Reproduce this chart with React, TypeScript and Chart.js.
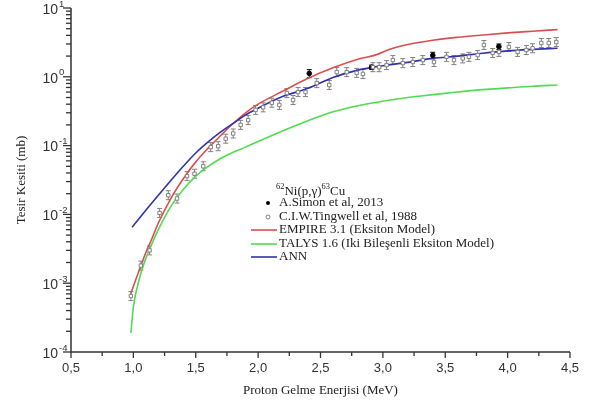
import React, { useEffect, useRef } from 'react';
import { Chart, registerables } from 'chart.js';

Chart.register(...registerables);

// ---- Data ----
const xTickValues = [0.5, 1.0, 1.5, 2.0, 2.5, 3.0, 3.5, 4.0, 4.5];
const xTickLabels = ['0,5', '1,0', '1,5', '2,0', '2,5', '3,0', '3,5', '4,0', '4,5'];
const yDecades = [-4, -3, -2, -1, 0, 1];

const empireE = [0.98, 1.0, 1.05, 1.1, 1.15, 1.2, 1.3, 1.4, 1.5, 1.6, 1.7, 1.8, 1.9, 2.0, 2.2, 2.4, 2.6, 2.8, 2.95, 3.05, 3.2, 3.4, 3.6, 3.8, 4.0, 4.2, 4.4];
const empireV = [7e-4, 9e-4, 1.6e-3, 2.8e-3, 4.5e-3, 7.5e-3, 0.017, 0.033, 0.058, 0.092, 0.14, 0.21, 0.3, 0.4, 0.62, 0.95, 1.35, 1.8, 2.1, 2.5, 2.95, 3.4, 3.75, 4.05, 4.35, 4.6, 4.85];

const talysE = [0.98, 1.0, 1.05, 1.1, 1.15, 1.2, 1.3, 1.4, 1.5, 1.6, 1.7, 1.8, 1.9, 2.0, 2.2, 2.4, 2.6, 2.8, 3.0, 3.2, 3.4, 3.6, 3.8, 4.0, 4.2, 4.4];
const talysV = [1.9e-4, 4.5e-4, 1.2e-3, 2.3e-3, 3.8e-3, 6e-3, 0.013, 0.023, 0.036, 0.05, 0.065, 0.08, 0.095, 0.115, 0.165, 0.23, 0.31, 0.38, 0.44, 0.5, 0.55, 0.6, 0.65, 0.69, 0.73, 0.76];

const annE = [0.99, 1.1, 1.2, 1.3, 1.4, 1.5, 1.6, 1.7, 1.8, 1.9, 2.0, 2.2, 2.4, 2.6, 2.8, 3.0, 3.2, 3.4, 3.6, 3.8, 4.0, 4.2, 4.4];
const annV = [0.0065, 0.0115, 0.019, 0.031, 0.05, 0.078, 0.113, 0.158, 0.21, 0.28, 0.35, 0.52, 0.68, 0.98, 1.25, 1.45, 1.62, 1.85, 2.0, 2.2, 2.38, 2.5, 2.6];

const tingwellE = [0.98, 1.06, 1.13, 1.21, 1.28, 1.35, 1.43, 1.49, 1.56, 1.62, 1.68, 1.74, 1.8, 1.86, 1.92, 1.98, 2.04, 2.11, 2.17, 2.23, 2.28, 2.32, 2.38, 2.47, 2.57, 2.63, 2.71, 2.79, 2.84, 2.92, 2.97, 3.03, 3.08, 3.16, 3.24, 3.32, 3.41, 3.51, 3.57, 3.64, 3.69, 3.76, 3.81, 3.88, 3.93, 4.01, 4.08, 4.15, 4.2, 4.27, 4.33, 4.39];
const tingwellV = [6.5e-4, 1.8e-3, 3.0e-3, 0.0105, 0.019, 0.017, 0.036, 0.039, 0.05, 0.095, 0.098, 0.126, 0.15, 0.2, 0.235, 0.33, 0.36, 0.42, 0.39, 0.58, 0.46, 0.6, 0.6, 0.81, 0.76, 1.17, 1.17, 1.14, 1.1, 1.38, 1.38, 1.48, 1.75, 1.58, 1.64, 1.75, 1.64, 1.95, 1.75, 1.85, 1.95, 2.07, 2.9, 2.22, 2.3, 2.71, 2.3, 2.45, 2.6, 3.1, 3.1, 3.2];

const simonE = [2.41, 2.91, 3.4, 3.93];
const simonV = [1.12, 1.38, 2.05, 2.75];
const simonErr = [0.15, 0.1, 0.22, 0.25];

const RED = 'rgb(214,80,80)';
const GREEN = 'rgb(80,220,80)';
const BLUE = 'rgb(50,50,170)';
const GRAY = 'rgb(130,130,130)';
const AXIS = '#333';

const pts = (xs: number[], ys: number[]) => xs.map((x, i) => ({ x, y: ys[i] }));

function drawParts(ctx: CanvasRenderingContext2D, parts: [string, boolean][], x: number, y: number, size: number, family: string) {
  let cx = x;
  for (const [t, sup] of parts) {
    const fs = sup ? size * 0.65 : size;
    ctx.font = `${fs}px ${family}`;
    ctx.fillText(t, cx, sup ? y - size * 0.4 : y);
    cx += ctx.measureText(t).width;
  }
}

const decorPlugin = {
  id: 'decor',
  beforeDatasetsDraw(chart: any) {
    const ctx = chart.ctx as CanvasRenderingContext2D;
    const ys = chart.scales.y;
    ctx.save();
    const meta = chart.getDatasetMeta(1);
    ctx.strokeStyle = '#000';
    ctx.lineWidth = 1;
    meta.data.forEach((el: any, i: number) => {
      const v = simonV[i];
      const e = simonErr[i];
      const yt = ys.getPixelForValue(v + e);
      const yb = ys.getPixelForValue(v - e);
      ctx.beginPath();
      ctx.moveTo(el.x, yt); ctx.lineTo(el.x, yb);
      ctx.moveTo(el.x - 2.5, yt); ctx.lineTo(el.x + 2.5, yt);
      ctx.moveTo(el.x - 2.5, yb); ctx.lineTo(el.x + 2.5, yb);
      ctx.stroke();
    });
    const m0 = chart.getDatasetMeta(0);
    ctx.strokeStyle = GRAY;
    m0.data.forEach((el: any) => {
      ctx.beginPath();
      ctx.moveTo(el.x, el.y - 4.5); ctx.lineTo(el.x, el.y + 4.5);
      ctx.moveTo(el.x - 2.5, el.y - 4.5); ctx.lineTo(el.x + 2.5, el.y - 4.5);
      ctx.moveTo(el.x - 2.5, el.y + 4.5); ctx.lineTo(el.x + 2.5, el.y + 4.5);
      ctx.stroke();
    });
    ctx.restore();
  },
  afterDraw(chart: any) {
    const ctx = chart.ctx as CanvasRenderingContext2D;
    const xs = chart.scales.x;
    const ys = chart.scales.y;
    const ca = chart.chartArea;
    ctx.save();
    ctx.strokeStyle = AXIS;
    ctx.fillStyle = AXIS;
    ctx.lineWidth = 1.5;
    ctx.beginPath();
    ctx.moveTo(ca.left, ca.top);
    ctx.lineTo(ca.left, ca.bottom);
    ctx.lineTo(ca.right, ca.bottom);
    ctx.stroke();

    ctx.lineWidth = 1.3;
    xTickValues.forEach((v, i) => {
      const px = xs.getPixelForValue(v);
      ctx.beginPath();
      ctx.moveTo(px, ca.bottom); ctx.lineTo(px, ca.bottom + 6);
      ctx.stroke();
      if (i < xTickValues.length - 1) {
        const pm = xs.getPixelForValue(v + 0.25);
        ctx.beginPath();
        ctx.moveTo(pm, ca.bottom); ctx.lineTo(pm, ca.bottom + 4);
        ctx.stroke();
      }
      ctx.font = '13px "Liberation Sans", Arial, sans-serif';
      ctx.textAlign = 'center';
      ctx.textBaseline = 'middle';
      ctx.fillText(xTickLabels[i], px, 368);
    });

    yDecades.forEach((d) => {
      const py = ys.getPixelForValue(Math.pow(10, d));
      ctx.beginPath();
      ctx.moveTo(ca.left, py); ctx.lineTo(ca.left - 8, py);
      ctx.stroke();
      if (d < 1) {
        for (let m = 2; m <= 9; m++) {
          const pm = ys.getPixelForValue(m * Math.pow(10, d));
          ctx.beginPath();
          ctx.moveTo(ca.left, pm); ctx.lineTo(ca.left - 5, pm);
          ctx.stroke();
        }
      }
      ctx.textBaseline = 'middle';
      ctx.textAlign = 'right';
      ctx.font = '14px "Liberation Sans", Arial, sans-serif';
      ctx.fillText('10', 58, py + 2);
      ctx.textAlign = 'left';
      ctx.font = '9.5px "Liberation Sans", Arial, sans-serif';
      ctx.fillText(String(d), 59, py - 4);
    });

    ctx.fillStyle = '#222';
    ctx.font = '13px "Liberation Serif", "Times New Roman", serif';
    ctx.textAlign = 'center';
    ctx.textBaseline = 'middle';
    ctx.fillText('Proton Gelme Enerjisi (MeV)', (ca.left + ca.right) / 2, 391);
    ctx.save();
    ctx.translate(22, (ca.top + ca.bottom) / 2);
    ctx.rotate(-Math.PI / 2);
    ctx.fillText('Tesir Kesiti (mb)', 0, 0);
    ctx.restore();

    const fam = '"Liberation Serif", "Times New Roman", serif';
    ctx.textAlign = 'left';
    ctx.textBaseline = 'middle';
    ctx.fillStyle = '#222';
    drawParts(ctx, [['62', true], ['Ni(p,\u03b3)', false], ['63', true], ['Cu', false]], 276, 192, 13, fam);
    ctx.font = `13px ${fam}`;
    const tx = 279;
    const rows = [203, 217, 230, 244, 257];
    const labels = ['A.Simon et al, 2013', 'C.I.W.Tingwell et al, 1988', 'EMPIRE 3.1 (Eksiton Model)', 'TALYS 1.6 (Iki Bile\u015fenli Eksiton Model)', 'ANN'];
    labels.forEach((l, i) => ctx.fillText(l, tx, rows[i]));
    ctx.fillStyle = '#000';
    ctx.beginPath(); ctx.arc(268, rows[0], 2, 0, Math.PI * 2); ctx.fill();
    ctx.strokeStyle = GRAY; ctx.lineWidth = 1;
    ctx.beginPath(); ctx.arc(268, rows[1], 2, 0, Math.PI * 2); ctx.stroke();
    [RED, GREEN, BLUE].forEach((c, i) => {
      ctx.strokeStyle = c; ctx.lineWidth = 1.6;
      ctx.beginPath(); ctx.moveTo(251, rows[i + 2]); ctx.lineTo(277, rows[i + 2]); ctx.stroke();
    });
    ctx.restore();
  },
};

export default function App() {
  const ref = useRef<HTMLCanvasElement | null>(null);
  useEffect(() => {
    document.body.style.margin = '0';
    const canvas = ref.current!;
    const chart = new Chart(canvas, {
      type: 'line',
      data: {
        datasets: [
          {
            label: 'C.I.W.Tingwell et al, 1988',
            data: pts(tingwellE, tingwellV),
            showLine: false,
            pointStyle: 'rect',
            pointRadius: 2.4,
            borderColor: GRAY,
            backgroundColor: '#fff',
            borderWidth: 1,
          },
          {
            label: 'A.Simon et al, 2013',
            data: pts(simonE, simonV),
            showLine: false,
            pointStyle: 'circle',
            pointRadius: 2.3,
            borderColor: '#000',
            backgroundColor: '#000',
            borderWidth: 1,
          },
          {
            label: 'ANN',
            data: pts(annE, annV),
            borderColor: BLUE,
            borderWidth: 1.6,
            pointRadius: 0,
            cubicInterpolationMode: 'monotone',
          },
          {
            label: 'EMPIRE 3.1 (Eksiton Model)',
            data: pts(empireE, empireV),
            borderColor: RED,
            borderWidth: 1.6,
            pointRadius: 0,
            cubicInterpolationMode: 'monotone',
          },
          {
            label: 'TALYS 1.6 (Iki Bileşenli Eksiton Model)',
            data: pts(talysE, talysV),
            borderColor: GREEN,
            borderWidth: 1.6,
            pointRadius: 0,
            cubicInterpolationMode: 'monotone',
          },
        ],
      },
      options: {
        animation: false,
        responsive: false,
        devicePixelRatio: 1,
        layout: { padding: { top: 8, right: 19, left: 0, bottom: 0 } },
        plugins: { legend: { display: false }, tooltip: { enabled: false } },
        scales: {
          x: {
            type: 'linear',
            min: 0.5,
            max: 4.5,
            grid: { display: false },
            border: { display: false },
            ticks: { display: false },
            afterFit: (s: any) => { s.height = 54; },
          },
          y: {
            type: 'logarithmic',
            min: 1e-4,
            max: 10,
            grid: { display: false },
            border: { display: false },
            ticks: { display: false },
            afterFit: (s: any) => { s.width = 71; },
          },
        },
      } as any,
      plugins: [decorPlugin],
    });
    return () => chart.destroy();
  }, []);
  return (
    <div style={{ width: 589, height: 406, background: '#fff' }}>
      <canvas ref={ref} width={589} height={406} style={{ display: 'block' }} />
    </div>
  );
}
